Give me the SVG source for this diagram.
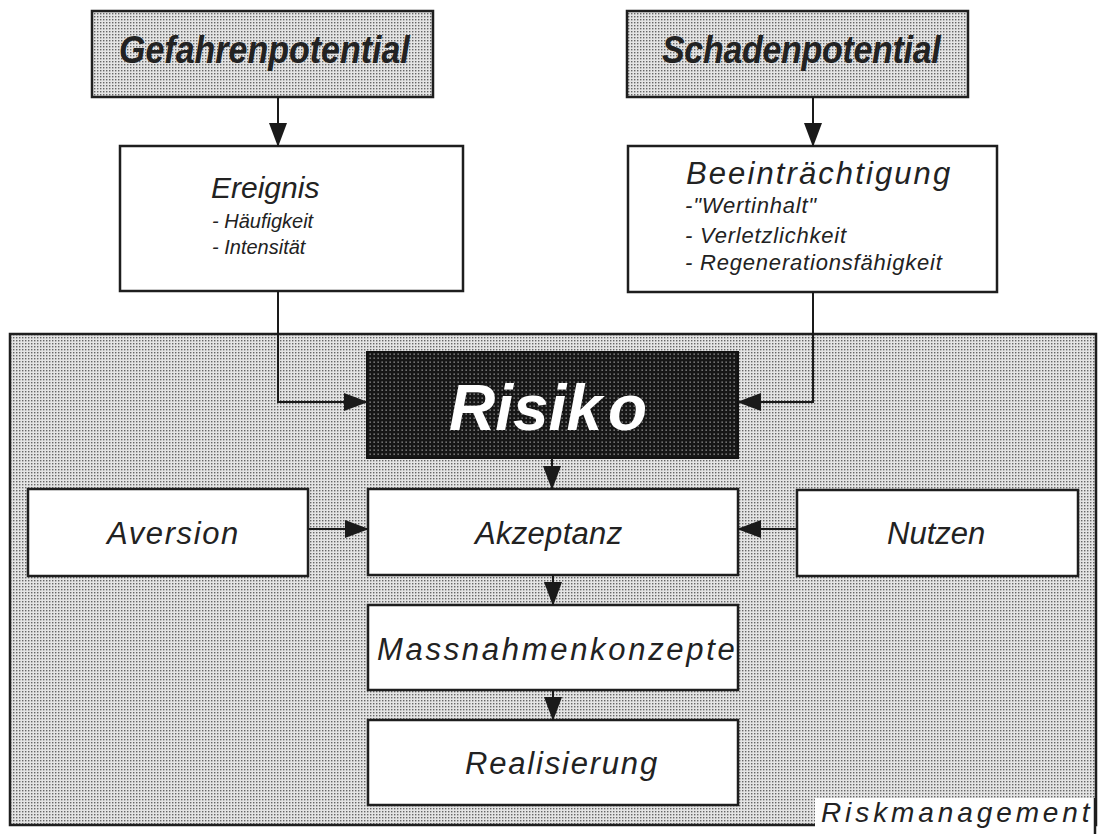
<svg xmlns="http://www.w3.org/2000/svg" width="1100" height="834" viewBox="0 0 1100 834">
<defs>
<pattern id="lt" width="3" height="3" patternUnits="userSpaceOnUse">
<rect width="3" height="3" fill="#e4e4e4"/>
<rect x="1" y="1" width="1.4" height="1.4" fill="#666"/>
</pattern>
<pattern id="dk" width="4" height="4" patternUnits="userSpaceOnUse">
<rect width="4" height="4" fill="#161616"/>
<rect x="1.5" y="1.5" width="1.3" height="1.3" fill="#a0a0a0"/>
</pattern>
<marker id="ah" markerUnits="userSpaceOnUse" markerWidth="24" markerHeight="18" refX="23" refY="9" orient="auto">
<path d="M0,0 L24,9 L0,18 z" fill="#1a1a1a"/>
</marker>
</defs>
<style>
.box{fill:#fff;stroke:#1e1e1e;stroke-width:2.5}
.shade{fill:url(#lt);stroke:#1e1e1e;stroke-width:2.5}
.t{font-family:"Liberation Sans",Arial,sans-serif;font-style:italic;fill:#222}
.hdr{font-size:34px;font-weight:bold}
.big{font-size:31px}
.sub{font-size:20px}
.sub2{font-size:22px}
.conn{fill:none;stroke:#1a1a1a;stroke-width:2;marker-end:url(#ah)}
</style>

<g id="riskmanagement">
<rect class="shade" x="10" y="334" width="1086" height="491"/>
<rect x="815" y="798" width="281" height="36" fill="#fff"/>
<line x1="1095" y1="798" x2="1095" y2="834" stroke="#1e1e1e" stroke-width="2.5"/>
<text class="t" x="821" y="822" font-size="28" letter-spacing="3.9">Riskmanagement</text>
</g>

<g id="gefahrenpotential">
<rect class="shade" x="92" y="11" width="341" height="86"/>
<text class="t hdr" x="119" y="63" transform="translate(0,63) scale(1,1.12) translate(0,-63)">Gefahrenpotential</text>
</g>

<g id="schadenpotential">
<rect class="shade" x="627" y="11" width="341" height="86"/>
<text class="t hdr" x="662" y="63" letter-spacing="-0.3" transform="translate(0,63) scale(1,1.12) translate(0,-63)">Schadenpotential</text>
</g>

<g id="ereignis">
<rect class="box" x="120" y="146" width="343" height="145"/>
<text class="t" x="211" y="198" font-size="30">Ereignis</text>
<text class="t sub" x="212" y="228">- Häufigkeit</text>
<text class="t sub" x="212" y="254">- Intensität</text>
</g>

<g id="beeintraechtigung">
<rect class="box" x="628" y="146" width="369" height="146"/>
<text class="t big" x="686" y="184" letter-spacing="2.1">Beeinträchtigung</text>
<text class="t sub2" x="685" y="213" letter-spacing="0.8">-"Wertinhalt"</text>
<text class="t sub2" x="685" y="243" letter-spacing="0.8">- Verletzlichkeit</text>
<text class="t sub2" x="685" y="270" letter-spacing="0.8">- Regenerationsfähigkeit</text>
</g>

<g id="risiko">
<rect x="367" y="352" width="371" height="106" fill="url(#dk)" stroke="#111" stroke-width="2"/>
<text class="t" x="449" y="430" font-size="64" font-weight="bold" style="fill:#fff">Risik<tspan dx="6">o</tspan></text>
</g>

<g id="aversion">
<rect class="box" x="28" y="489" width="280" height="87"/>
<text class="t big" x="107" y="544" letter-spacing="1.6">Aversion</text>
</g>

<g id="akzeptanz">
<rect class="box" x="368" y="489" width="370" height="86"/>
<text class="t big" x="475" y="544" letter-spacing="0.3">Akzeptanz</text>
</g>

<g id="nutzen">
<rect class="box" x="797" y="490" width="281" height="86"/>
<text class="t big" x="887" y="544">Nutzen</text>
</g>

<g id="massnahmenkonzepte">
<rect class="box" x="368" y="605" width="370" height="85"/>
<text class="t big" x="377" y="660" letter-spacing="2.7">Massnahmenkonzepte</text>
</g>

<g id="realisierung">
<rect class="box" x="368" y="720" width="370" height="85"/>
<text class="t big" x="465" y="774" letter-spacing="1.8">Realisierung</text>
</g>

<g id="connectors">
<path class="conn" d="M278,97 V146"/>
<path class="conn" d="M813,97 V146"/>
<path class="conn" d="M278,291 V402 H367"/>
<path class="conn" d="M813,292 V402 H738"/>
<path class="conn" d="M552,458 V489"/>
<path class="conn" d="M308,529 H368"/>
<path class="conn" d="M797,529 H738"/>
<path class="conn" d="M553,575 V605"/>
<path class="conn" d="M553,690 V720"/>
</g>
</svg>
